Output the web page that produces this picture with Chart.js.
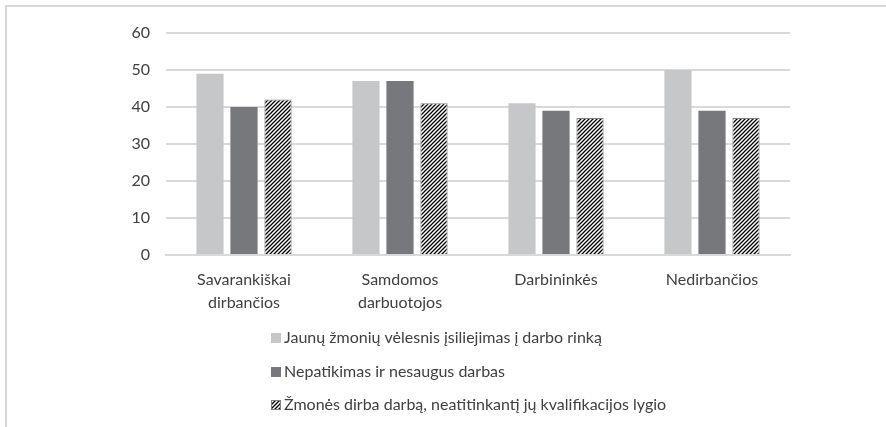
<!DOCTYPE html>
<html>
<head>
<meta charset="utf-8">
<script src="https://cdn.jsdelivr.net/npm/chart.js@4"></script>
<style>
  html, body { margin: 0; padding: 0; background: #fff; }
  #wrap { position: relative; width: 886px; height: 427px; overflow: hidden; }
  #frame { position: absolute; left: 5px; top: 5px; width: 900px; height: 440px; border: 2px solid #d9d9d9; box-sizing: border-box; }
  #chart { position: absolute; left: 0; top: 0; }
</style>
</head>
<body>
<div id="wrap">
  <div id="frame"></div>
  <canvas id="chart" width="886" height="427"></canvas>
</div>
<script>
const categories = [
  ["Savarankiškai", "dirbančios"],
  ["Samdomos", "darbuotojos"],
  "Darbininkės",
  "Nedirbančios",
];
const seriesNames = [
  "Jaunų žmonių vėlesnis įsiliejimas į darbo rinką",
  "Nepatikimas ir nesaugus darbas",
  "Žmonės dirba darbą, neatitinkantį jų kvalifikacijos lygio",
];
const laterEntry = [49, 47, 41, 50];
const insecureWork = [40, 47, 39, 39];
const mismatchedWork = [42, 41, 37, 37];
const yTicks = [0, 10, 20, 30, 40, 50, 60];

const FONT = "Lato, 'Open Sans', sans-serif";
const TEXT = "#404040";

function makeHatch() {
  const c = document.createElement("canvas");
  c.width = 4;
  c.height = 4;
  const g = c.getContext("2d");
  g.fillStyle = "#ffffff";
  g.fillRect(0, 0, 4, 4);
  g.strokeStyle = "#000000";
  g.lineWidth = 1.3;
  g.beginPath();
  g.moveTo(-1, 5); g.lineTo(5, -1);
  g.moveTo(-1, 1); g.lineTo(1, -1);
  g.moveTo(3, 5); g.lineTo(5, 3);
  g.stroke();
  return g.createPattern(c, "repeat");
}
const hatch = makeHatch();

// vertical legend under the plot, drawn by hand
const stackedLegend = {
  id: "stackedLegend",
  afterDraw(chart) {
    const ctx = chart.ctx;
    const left = chart.chartArea.left + 105;
    const rows = [338, 372, 405];
    ctx.save();
    ctx.font = "16px " + FONT;
    ctx.textBaseline = "middle";
    chart.data.datasets.forEach((ds, i) => {
      const y = rows[i];
      ctx.fillStyle = ds.backgroundColor;
      ctx.fillRect(left, y - 5, 10, 10);
      if (ds.borderWidth) {
        ctx.strokeStyle = ds.borderColor;
        ctx.lineWidth = 1;
        ctx.strokeRect(left + 0.5, y - 4.5, 9, 9);
      }
      ctx.fillStyle = TEXT;
      ctx.fillText(ds.label, left + 13, y);
    });
    ctx.restore();
  },
};

new Chart(document.getElementById("chart").getContext("2d"), {
  type: "bar",
  data: {
    labels: categories,
    datasets: [
      { label: seriesNames[0], data: laterEntry, backgroundColor: "#c6c7c9", borderWidth: 0 },
      { label: seriesNames[1], data: insecureWork, backgroundColor: "#77787b", borderWidth: 0 },
      { label: seriesNames[2], data: mismatchedWork, backgroundColor: hatch, borderColor: "#808080", borderWidth: 1 },
    ],
  },
  options: {
    responsive: false,
    animation: false,
    barPercentage: 0.8,
    categoryPercentage: 0.654,
    layout: { padding: { top: 33, right: 96, bottom: 112, left: 0 } },
    plugins: {
      legend: { display: false },
      tooltip: { enabled: false },
    },
    scales: {
      x: {
        afterFit: (s) => { s.height = 60; },
        grid: { display: false },
        border: { color: "#d9d9d9", width: 2 },
        ticks: {
          color: TEXT,
          padding: 6,
          font: { family: FONT, size: 16, lineHeight: 1.4 },
          maxRotation: 0,
        },
      },
      y: {
        min: 0,
        max: 60,
        afterFit: (s) => { s.width = 166; },
        afterBuildTicks: (s) => { s.ticks = yTicks.map((v) => ({ value: v })); },
        grid: { color: "#d9d9d9", lineWidth: 2, drawTicks: false },
        border: { display: false },
        ticks: {
          color: TEXT,
          padding: 16,
          font: { family: FONT, size: 16 },
        },
      },
    },
  },
  plugins: [stackedLegend],
});
</script>
</body>
</html>
